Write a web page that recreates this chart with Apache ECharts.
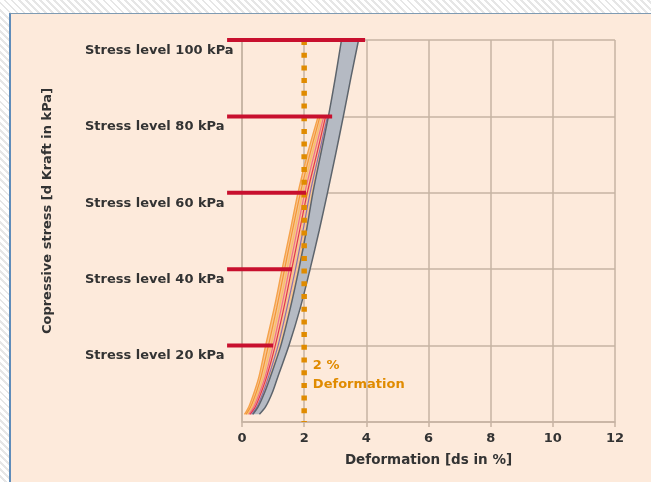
<!DOCTYPE html>
<html>
<head>
<meta charset="utf-8">
<script src="https://cdn.jsdelivr.net/npm/echarts@6/dist/echarts.min.js"></script>
<style>
  html, body { margin:0; padding:0; }
  body {
    width:651px; height:482px; overflow:hidden; position:relative;
    background: repeating-linear-gradient(45deg, #ffffff 0px, #ffffff 3px, #e6e6e6 3px, #e6e6e6 5px);
  }
  #panel {
    position:absolute; left:9px; top:13px; width:700px; height:520px;
    background:#fdeadb; border-left:2px solid #5f8cba; border-top:1px solid #7f9bb3;
  }
  #chart { position:absolute; left:0; top:0; width:651px; height:482px; }
</style>
</head>
<body>
<div id="panel"></div>
<div id="chart"></div>
<script>
// ---- data ----
const xTicks = [0, 2, 4, 6, 8, 10, 12];
const yTickLabels = ['', 'Stress level 20 kPa', 'Stress level 40 kPa', 'Stress level 60 kPa', 'Stress level 80 kPa', 'Stress level 100 kPa'];

// gray band (stress in kPa, deformation in %)
const grayLevels = [2, 4, 8, 12, 20, 30, 40, 50, 60, 70, 80, 90, 100];
const grayLeft   = [0.35, 0.52, 0.74, 0.92, 1.25, 1.56, 1.83, 2.07, 2.28, 2.53, 2.78, 3.00, 3.20];
const grayRight  = [0.56, 0.76, 0.99, 1.16, 1.51, 1.88, 2.19, 2.48, 2.75, 3.01, 3.26, 3.50, 3.75];

// coloured single-sample curves
const bandLevels = [2, 4, 8, 12, 20, 30, 40, 50, 60, 70, 80];
const curveA = [0.08, 0.22, 0.40, 0.55, 0.76, 1.04, 1.29, 1.55, 1.80, 2.10, 2.45];
const curveB = [0.13, 0.28, 0.47, 0.62, 0.85, 1.12, 1.37, 1.62, 1.88, 2.18, 2.51];
const curveC = [0.18, 0.33, 0.53, 0.69, 0.93, 1.20, 1.45, 1.70, 1.95, 2.25, 2.57];
const curveD = [0.22, 0.38, 0.58, 0.75, 1.00, 1.27, 1.52, 1.77, 2.02, 2.32, 2.63];
const curveE = [0.26, 0.43, 0.63, 0.80, 1.07, 1.35, 1.60, 1.85, 2.10, 2.40, 2.69];
const curveF = [0.31, 0.48, 0.69, 0.86, 1.16, 1.45, 1.72, 1.96, 2.19, 2.47, 2.75];

// red stress-level reference lines
const refLevels = [20, 40, 60, 80, 100];
const refEnds   = [1.00, 1.61, 2.06, 2.90, 3.96];
const refStart  = -0.48;

// 2 % deformation limit
const limitX = 2;
const limitLabel = '2 %\nDeformation';

// ---- chart ----
const FONT = 'DejaVu Sans';
const zip = (xs, ys) => xs.map((x, i) => [x, ys[i]]);

function bandPolygon(lx, ly, rx, ry, fill, z) {
  return {
    type: 'custom', coordinateSystem: 'cartesian2d', silent: true, z: z,
    data: [[0, 0]],
    renderItem: function (params, api) {
      const pts = [];
      for (let i = 0; i < lx.length; i++) pts.push(api.coord([lx[i], ly[i]]));
      for (let i = rx.length - 1; i >= 0; i--) pts.push(api.coord([rx[i], ry[i]]));
      return { type: 'polygon', shape: { points: pts }, style: { fill: fill } };
    }
  };
}
function curve(xs, ys, color, width, z) {
  return {
    type: 'line', data: zip(xs, ys), symbol: 'none', smooth: 0.3, silent: true, z: z,
    lineStyle: { color: color, width: width }
  };
}

const series = [];
series.push(bandPolygon(curveA, bandLevels, grayLeft.slice(0, bandLevels.length), bandLevels, '#f8c592', 2));
series.push(curve(curveA, bandLevels, '#f5a24a', 1.4, 3));
series.push(curve(curveB, bandLevels, '#f39636', 1.2, 3));
series.push(curve(curveC, bandLevels, '#f6bd6c', 1.2, 3));
series.push(curve(curveD, bandLevels, '#ee6d8b', 1.2, 3));
series.push(curve(curveE, bandLevels, '#e2354f', 1.2, 3));
series.push(curve(curveF, bandLevels, '#8a6fb0', 1.2, 3));
series.push(bandPolygon(grayLeft, grayLevels, grayRight, grayLevels, '#b5bac3', 4));
series.push(curve(grayLeft, grayLevels, '#5d646c', 1.5, 5));
series.push(curve(grayRight, grayLevels, '#5d646c', 1.5, 5));
series.push({
  type: 'line', data: [[limitX, 100], [limitX, 0]], symbol: 'none', silent: true, z: 6,
  lineStyle: { color: '#e08b00', width: 5.5, type: [5, 7.7], cap: 'butt' }
});
series.push({
  type: 'custom', coordinateSystem: 'cartesian2d', silent: true, z: 7, clip: false,
  data: refLevels.map((lvl, i) => [refStart, lvl, refEnds[i]]),
  encode: { x: [0, 2], y: 1 },
  renderItem: function (params, api) {
    const p1 = api.coord([api.value(0), api.value(1)]);
    const p2 = api.coord([api.value(2), api.value(1)]);
    return { type: 'line', shape: { x1: p1[0], y1: p1[1], x2: p2[0], y2: p2[1] },
      style: { stroke: '#c8102e', lineWidth: 4, lineCap: 'butt' } };
  }
});

const chart = echarts.init(document.getElementById('chart'), null, { renderer: 'canvas' });
chart.setOption({
  animation: false,
  backgroundColor: 'transparent',
  grid: { left: 242, right: 36, top: 40, bottom: 60 },
  xAxis: {
    type: 'value', min: xTicks[0], max: xTicks[xTicks.length - 1], interval: 2,
    name: 'Deformation [ds in %]', nameLocation: 'middle', nameGap: 31,
    nameTextStyle: { fontFamily: FONT, fontWeight: 'bold', fontSize: 13.5, color: '#333' },
    axisLine: { lineStyle: { color: '#c6b3a3', width: 1.5 } },
    axisTick: { show: true, length: 5, lineStyle: { color: '#c6b3a3', width: 1.5 } },
    axisLabel: { margin: 10, fontFamily: FONT, fontWeight: 'bold', fontSize: 13, color: '#333' },
    splitLine: { show: true, lineStyle: { color: '#c6b3a3', width: 1.5 } }
  },
  yAxis: {
    type: 'value', min: 0, max: 100, interval: 20,
    axisLine: { show: true, lineStyle: { color: '#c6b3a3', width: 1.5 } },
    axisTick: { show: false },
    axisLabel: {
      margin: 157, align: 'left', verticalAlign: 'top', padding: [4, 0, 0, 0],
      fontFamily: FONT, fontWeight: 'bold', fontSize: 13, color: '#333',
      formatter: v => yTickLabels[Math.round(v / 20)]
    },
    splitLine: { show: true, lineStyle: { color: '#c6b3a3', width: 1.5 } }
  },
  series: series
});

const tp = chart.convertToPixel({ gridIndex: 0 }, [2.28, 14.7]);
chart.setOption({
  graphic: [
    {
      type: 'text', x: 48, y: 211, rotation: Math.PI / 2, silent: true,
      style: { text: 'Copressive stress [d Kraft in kPa]', fontFamily: FONT, fontWeight: 'bold',
        fontSize: 13, fill: '#333', align: 'center', verticalAlign: 'middle' }
    },
    {
      type: 'text', x: tp[0], y: tp[1] - 10, silent: true,
      style: { text: limitLabel, fontFamily: FONT, fontWeight: 'bold', fontSize: 13,
        lineHeight: 19, fill: '#e08b00', align: 'left', verticalAlign: 'top' }
    }
  ]
});
</script>
</body>
</html>
